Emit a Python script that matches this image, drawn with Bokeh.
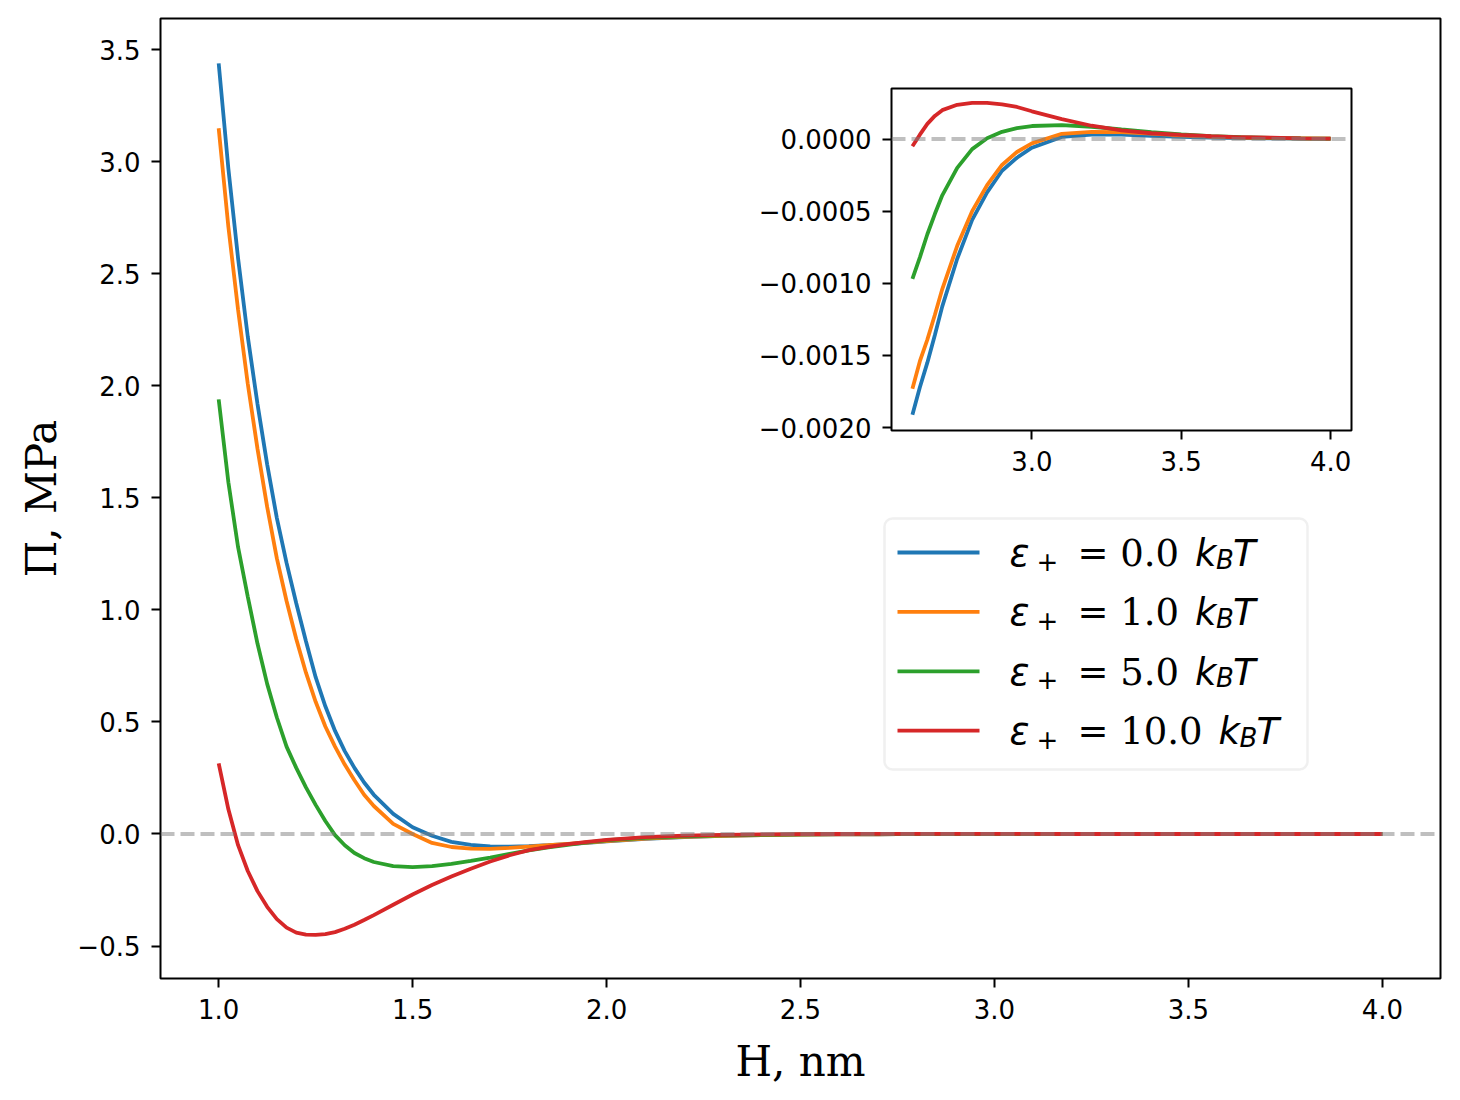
from bokeh.plotting import figure
from bokeh.models import (Span, Label, BoxAnnotation, FixedTicker,
                          CustomJSTickFormatter, Range1d, GridBox)
from bokeh.embed import file_html
from bokeh.resources import INLINE

# ---------------- data ----------------
H = [1.0, 1.025, 1.05, 1.075, 1.1, 1.125, 1.15, 1.175, 1.2, 1.225, 1.25, 1.275, 1.3,
     1.325, 1.35, 1.375, 1.4,
     1.45, 1.5, 1.55, 1.6, 1.65, 1.7, 1.75, 1.8, 1.85, 1.9, 1.95, 2.0,
     2.1, 2.2, 2.3, 2.4, 2.5,
     2.6, 2.625, 2.65, 2.675, 2.7, 2.75, 2.8, 2.85, 2.9, 2.95, 3.0,
     3.1, 3.2, 3.3, 3.4, 3.5, 3.6, 3.7, 3.8, 3.9, 4.0]

PI_EPS_0 = [3.44, 2.97, 2.57, 2.22, 1.92, 1.65, 1.41, 1.21, 1.03, 0.86, 0.70, 0.57, 0.46,
            0.37, 0.295, 0.23, 0.175,
            0.09, 0.03, -0.008, -0.035, -0.049, -0.055, -0.056, -0.054, -0.050, -0.045, -0.040, -0.033,
            -0.022, -0.0135, -0.0083, -0.0051, -0.0031,
            -0.00191, -0.00172, -0.00155, -0.00136, -0.00116, -0.00083, -0.00056, -0.00037, -0.00022,
            -0.00013, -0.00006,
            0.000015, 0.00003, 0.00003, 0.000022, 0.000015, 0.00001, 0.000006, 0.000004, 0.000002, 0.000001]

PI_EPS_1 = [3.15, 2.71, 2.34, 2.01, 1.72, 1.46, 1.23, 1.04, 0.87, 0.72, 0.59, 0.48, 0.39,
            0.31, 0.24, 0.175, 0.125,
            0.045, 0.0, -0.04, -0.058, -0.065, -0.066, -0.062, -0.056, -0.050, -0.044, -0.038, -0.032,
            -0.021, -0.013, -0.0079, -0.0048, -0.0029,
            -0.00173, -0.00154, -0.00139, -0.00122, -0.00104, -0.00074, -0.00050, -0.00032, -0.00018,
            -0.00009, -0.00003,
            0.000036, 0.00005, 0.000048, 0.000038, 0.000026, 0.000017, 0.00001, 0.000006, 0.000004, 0.000002]

PI_EPS_5 = [1.94, 1.57, 1.28, 1.06, 0.85, 0.67, 0.52, 0.39, 0.295, 0.208, 0.13, 0.058, -0.005,
            -0.05, -0.085, -0.108, -0.125,
            -0.143, -0.148, -0.143, -0.133, -0.120, -0.105, -0.089, -0.073, -0.060, -0.048, -0.037, -0.028,
            -0.017, -0.0105, -0.0062, -0.0035, -0.0019,
            -0.00097, -0.00082, -0.00066, -0.00052, -0.00039, -0.00020, -0.00007, 0.000005, 0.00005,
            0.000075, 0.00009,
            0.000096, 0.000085, 0.000066, 0.000048, 0.000032, 0.00002, 0.000013, 0.000008, 0.000005, 0.000003]

PI_EPS_10 = [0.315, 0.11, -0.05, -0.165, -0.255, -0.325, -0.38, -0.418, -0.44, -0.449, -0.45, -0.447, -0.438,
             -0.423, -0.405, -0.384, -0.362,
             -0.316, -0.27, -0.228, -0.19, -0.155, -0.123, -0.095, -0.072, -0.057, -0.045, -0.035, -0.026,
             -0.014, -0.0072, -0.0036, -0.0017, -0.0007,
             -0.00005, 0.00003, 0.000105, 0.00016, 0.0002, 0.000237, 0.00025, 0.00025, 0.00024,
             0.000222, 0.000192,
             0.000138, 0.000092, 0.00006, 0.00004, 0.000028, 0.000019, 0.000012, 0.000009, 0.000005, 0.000002]

SERIES = [PI_EPS_0, PI_EPS_1, PI_EPS_5, PI_EPS_10]
EPS_LABELS = ["0.0", "1.0", "5.0", "10.0"]
COLORS = ["#1f77b4", "#ff7f0e", "#2ca02c", "#d62728"]

X_TICKS = [1.0, 1.5, 2.0, 2.5, 3.0, 3.5, 4.0]
Y_TICKS = [-0.5, 0.0, 0.5, 1.0, 1.5, 2.0, 2.5, 3.0, 3.5]
INSET_X_TICKS = [3.0, 3.5, 4.0]
INSET_Y_TICKS = [-0.002, -0.0015, -0.001, -0.0005, 0.0]
INSET_START = 2.6

# ---------------- layout constants ----------------
XR = (0.85, 4.15)
YR = (-0.645, 3.64)
IXR = (2.53, 4.07)
IYR = (-0.00202, 0.00035)

# borders shared by both figures (the grid aligns them)
BL, BT, BR, BB = 160, 18, 12, 114
FW, FH = 1280, 960                           # main frame size
IFW, IFH = 460, 342                          # inset frame size
INSET_FRAME_X, INSET_FRAME_Y = 891, 88       # wanted inset frame position
INSET_LEFT, INSET_TOP = INSET_FRAME_X - BL, INSET_FRAME_Y - BT

LW = 3.8
TICK_FONT = "26px"


def fmt(digits):
    return CustomJSTickFormatter(
        code="return tick.toFixed(%d).replace('-', '\u2212');" % digits)


def style(f, xt, yt, xd, yd):
    f.grid.visible = False
    f.outline_line_color = "black"
    f.outline_line_width = 2
    f.outline_line_alpha = 1
    f.xaxis.ticker = FixedTicker(ticks=xt)
    f.yaxis.ticker = FixedTicker(ticks=yt)
    f.xaxis.formatter = fmt(xd)
    f.yaxis.formatter = fmt(yd)
    for ax in f.axis:
        ax.axis_line_color = None
        ax.major_tick_line_color = "black"
        ax.major_tick_line_width = 2
        ax.major_tick_out = 9
        ax.major_tick_in = 0
        ax.minor_tick_line_color = None
        ax.major_label_text_font = "DejaVu Sans"
        ax.major_label_text_font_size = TICK_FONT
        ax.major_label_text_color = "black"
        ax.major_label_standoff = 11


# ---------------- main figure ----------------
fig = figure(frame_width=FW, frame_height=FH,
             x_range=Range1d(*XR), y_range=Range1d(*YR),
             min_border_left=BL, min_border_top=BT,
             min_border_right=BR, min_border_bottom=BB,
             output_backend="svg", toolbar_location=None)
style(fig, X_TICKS, Y_TICKS, 1, 1)
fig.xaxis.axis_label = "H, nm"
fig.yaxis.axis_label = "Π, MPa"
for ax in fig.axis:
    ax.axis_label_text_font = "DejaVu Serif"
    ax.axis_label_text_font_size = "42px"
    ax.axis_label_text_font_style = "normal"
    ax.axis_label_text_color = "black"
fig.xaxis.axis_label_standoff = 15
fig.yaxis.axis_label_standoff = 8

for vals, c in zip(SERIES, COLORS):
    fig.line(H, vals, line_color=c, line_width=LW)

fig.add_layout(Span(location=0, dimension="width", line_color="gray",
                    line_alpha=0.5, line_width=LW, line_dash="14 6"))


# pixel -> data helpers for the hand-built legend
def dx(px):
    return XR[0] + (px - BL) * (XR[1] - XR[0]) / FW


def dy(py):
    return YR[1] - (py - BT) * (YR[1] - YR[0]) / FH


fig.add_layout(BoxAnnotation(left=dx(884), right=dx(1307), top=dy(518), bottom=dy(769),
                             fill_color="white", fill_alpha=0.8,
                             line_color="#cccccc", line_width=2.5, border_radius=8))

ROW0_LINE, ROW0_BASE, ROW_STEP = 552.0, 553.0, 59.4
BIG, SMALL = "37px", "26px"
NUM_W = {"0.0": 58.8, "1.0": 58.8, "5.0": 58.8, "10.0": 82.4}

for i, (lab, c) in enumerate(zip(EPS_LABELS, COLORS)):
    yl = ROW0_LINE + ROW_STEP * i
    fig.add_layout(BoxAnnotation(left=dx(897), right=dx(979), top=dy(yl - 1.9),
                                 bottom=dy(yl + 1.9), fill_color=c, fill_alpha=1,
                                 line_color=None))
    yb = ROW0_BASE + ROW_STEP * i
    pieces = [
        (1009, yb, "ε", "DejaVu Sans", "italic", BIG),
        (1036, yb + 7, "+", "DejaVu Sans", "normal", SMALL),
        (1077, yb, "= " + lab, "DejaVu Serif", "normal", BIG),
    ]
    kx = 1077 + 42.8 + NUM_W[lab] + 11.8 + 4
    pieces += [
        (kx, yb, "k", "DejaVu Sans", "italic", BIG),
        (kx + 21, yb + 6, "B", "DejaVu Sans", "italic", SMALL),
        (kx + 38, yb, "T", "DejaVu Sans", "italic", BIG),
    ]
    for (px, py, t, font, st, size) in pieces:
        fig.add_layout(Label(x=dx(px), y=dy(py), text=t, text_font=font,
                             text_font_style=st, text_font_size=size,
                             text_color="black", text_align="left",
                             text_baseline="alphabetic"))

# ---------------- inset ----------------
inset = figure(frame_width=IFW, frame_height=IFH,
               x_range=Range1d(*IXR), y_range=Range1d(*IYR),
               min_border_left=BL, min_border_top=BT,
               min_border_right=BR, min_border_bottom=BB,
               output_backend="svg", toolbar_location=None)
style(inset, INSET_X_TICKS, INSET_Y_TICKS, 1, 4)
inset.border_fill_alpha = 0
inset.background_fill_color = "white"

idx = [k for k, h in enumerate(H) if h >= INSET_START]
for vals, c in zip(SERIES, COLORS):
    inset.line([H[k] for k in idx], [vals[k] for k in idx], line_color=c, line_width=LW)
inset.add_layout(Span(location=0, dimension="width", line_color="gray",
                      line_alpha=0.5, line_width=LW, line_dash="14 6"))

fig.align = "start"
inset.align = "start"
inset.margin = (INSET_TOP, 0, 0, INSET_LEFT)

p = GridBox(children=[(fig, 0, 0), (inset, 0, 0)])

open("out.html", "w").write(file_html(p, INLINE))
